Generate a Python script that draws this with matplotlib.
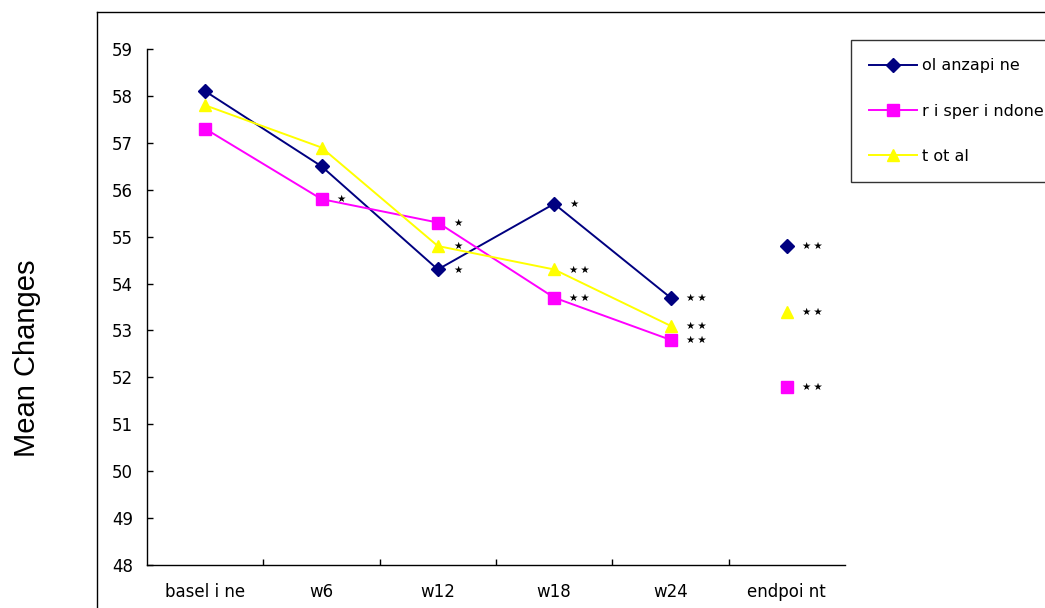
import numpy as np
import matplotlib
matplotlib.use('Agg')
import matplotlib.pyplot as plt
from matplotlib.lines import Line2D

plt.rcParams['font.family'] = ['DejaVu Sans']

# Data
categories = ['basel i ne', 'w6', 'w12', 'w18', 'w24', 'endpoi nt']
olanzapine = [58.1, 56.5, 54.3, 55.7, 53.7, 54.8]
risperidone = [57.3, 55.8, 55.3, 53.7, 52.8, 51.8]
total = [57.8, 56.9, 54.8, 54.3, 53.1, 53.4]

olanzapine_sig = ['', '', '*', '*', '**', '**']
risperidone_sig = ['', '*', '*', '**', '**', '**']
total_sig = ['', '', '*', '**', '**', '**']

labels = ['ol anzapi ne', 'r i sper i ndone', 't ot al']

fig = plt.figure(figsize=(10.45, 6.08), dpi=100)
ax = fig.add_axes([147/1045, 1 - 565/608, 698/1045, 516/608])

x = np.arange(len(categories))
series = [
    (olanzapine, olanzapine_sig, '#000080', 'D', 7),
    (risperidone, risperidone_sig, '#FF00FF', 's', 8),
    (total, total_sig, '#FFFF00', '^', 9),
]

handles = []
for (vals, sig, col, mk, ms), lab in zip(series, labels):
    # connected time points, endpoint drawn on its own
    h, = ax.plot(x[:5], vals[:5], color=col, marker=mk, markersize=ms,
                 linewidth=1.4, label=lab)
    ax.plot(x[5], vals[5], color=col, marker=mk, markersize=ms, linestyle='none')
    handles.append(h)
    for xi, v, s in zip(x, vals, sig):
        if s:
            star = '\u2009'.join(['\u2605'] * len(s))
            ax.annotate(star, (xi, v), xytext=(11, 0), textcoords='offset points',
                        ha='left', va='center', fontsize=7.5, color='black')

ax.set_xlim(-0.5, 5.5)
ax.set_ylim(48, 59)
ax.set_yticks(range(48, 60))
ax.set_xticks(x)
ax.set_xticklabels(categories)
ax.set_xticks(np.arange(0.5, 5.0, 1.0), minor=True)
ax.tick_params(axis='x', which='major', length=0, pad=13, labelsize=12)
ax.tick_params(axis='x', which='minor', direction='in', length=4, width=1)
ax.tick_params(axis='y', direction='in', length=4, width=1, pad=10, labelsize=12)

ax.spines['top'].set_visible(False)
ax.spines['right'].set_visible(False)
for sp in ['left', 'bottom']:
    ax.spines[sp].set_linewidth(1)

fig.text(27/1045, 1 - 358/608, 'Mean Changes', rotation=90, ha='center',
         va='center', fontsize=21, family='Liberation Sans')

# outer chart frame (cut off at right and bottom)
fx = 97/1045
fy = 1 - 12/608
fig.add_artist(Line2D([fx, fx], [0, fy], transform=fig.transFigure,
                      color='black', linewidth=1))
fig.add_artist(Line2D([fx, 1], [fy, fy], transform=fig.transFigure,
                      color='black', linewidth=1))

leg = fig.legend(handles=handles, loc='upper left',
                 bbox_to_anchor=(851/1045, 1 - 40/608), fontsize=11.5,
                 frameon=True, fancybox=False, shadow=False,
                 handlelength=3.0, handletextpad=0.3, labelspacing=1.9,
                 borderpad=1.15, borderaxespad=0)
leg.get_frame().set_edgecolor('black')
leg.get_frame().set_linewidth(1)

fig.savefig('out.png', dpi=100)
